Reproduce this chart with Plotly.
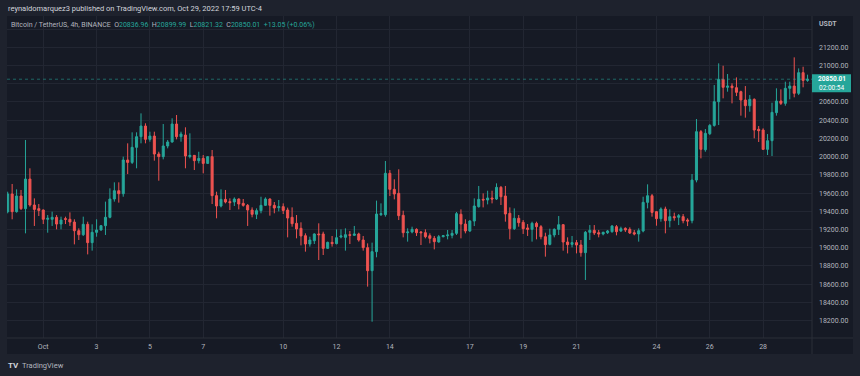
import plotly.graph_objects as go
import pandas as pd

# ---------------- data (BTC/USDT, 4h candles) ----------------
start_time = "2022-09-29 16:00"

opens = [19396, 19590, 19396, 19568, 19429, 19754, 19469, 19429, 19414, 19312,
         19312, 19334, 19260, 19319, 19312, 19282, 19187, 19143, 19257, 19056,
         19169, 19195, 19242, 19334, 19535, 19626, 19593, 19963, 19937, 20102,
         20219, 20336, 20190, 20226, 20029, 20000, 20117, 20161, 20358, 20219,
         20237, 20000, 20014, 19956, 19981, 19926, 20000, 19572, 19458, 19531,
         19506, 19502, 19535, 19487, 19465, 19414, 19367, 19407, 19465, 19535,
         19465, 19440, 19451, 19414, 19334, 19268, 19213, 19132, 19041, 19077,
         19151, 19151, 18993, 19059, 19045, 19118, 19114, 19143, 19136, 19151,
         19085, 19001, 18748, 18957, 19363, 19363, 19817, 19641, 19597, 19356,
         19165, 19173, 19202, 19173, 19165, 19132, 19103, 19063, 19121, 19132,
         19136, 19158, 19367, 19260, 19184, 19293, 19451, 19531, 19524, 19546,
         19535, 19663, 19568, 19378, 19209, 19323, 19279, 19217, 19202, 19268,
         19231, 19121, 19037, 19140, 19202, 19253, 19063, 19037, 19056, 19030,
         18946, 19169, 19191, 19165, 19151, 19165, 19176, 19231, 19184, 19213,
         19202, 19165, 19151, 19184, 19498, 19571, 19396, 19319, 19425, 19297,
         19341, 19334, 19341, 19304, 19297, 19743, 20274, 20076, 20252, 20343,
         20603, 20848, 20761, 20775, 20757, 20713, 20622, 20559, 20629, 20300,
         20292, 20080, 20175, 20483, 20611, 20585, 20750, 20775, 20695, 20922,
         20836.96]

highs = [19615, 19700, 19641, 19634, 20183, 19872, 19542, 19480, 19420, 19359,
         19396, 19359, 19341, 19341, 19388, 19312, 19213, 19341, 19286, 19257,
         19312, 19249, 19506, 19652, 19718, 19718, 20000, 20146, 20267, 20267,
         20475, 20366, 20274, 20274, 20054, 20358, 20183, 20421, 20457, 20274,
         20322, 20256, 20018, 20054, 20018, 20007, 20073, 19615, 19641, 19634,
         19542, 19553, 19542, 19535, 19480, 19443, 19432, 19560, 19553, 19542,
         19502, 19524, 19487, 19440, 19443, 19359, 19279, 19158, 19121, 19158,
         19268, 19176, 19067, 19129, 19202, 19202, 19213, 19184, 19239, 19165,
         19129, 19048, 19056, 19517, 19487, 19952, 19853, 19751, 19861, 19407,
         19213, 19231, 19213, 19184, 19202, 19158, 19129, 19140, 19140, 19195,
         19195, 19392, 19421, 19312, 19304, 19542, 19678, 19597, 19626, 19626,
         19707, 19678, 19678, 19443, 19432, 19359, 19304, 19260, 19286, 19286,
         19249, 19165, 19209, 19213, 19348, 19260, 19114, 19129, 19085, 19085,
         19184, 19249, 19249, 19195, 19176, 19195, 19249, 19249, 19231, 19224,
         19224, 19195, 19213, 19560, 19696, 19590, 19403, 19443, 19451, 19421,
         19385, 19370, 19370, 19323, 19809, 20413, 20292, 20303, 20358, 20786,
         21024, 20998, 20907, 20805, 20870, 20724, 20775, 20676, 20640, 20336,
         20311, 20248, 20592, 20750, 20739, 20823, 20823, 21090, 20969, 20987,
         20899.99]

lows = [19378, 19312, 19385, 19414, 19158, 19451, 19239, 19348, 19260, 19165,
        19239, 19202, 19202, 19260, 19239, 19037, 19085, 19129, 18927, 18968,
        19121, 19187, 19140, 19323, 19506, 19495, 19560, 19809, 19919, 19872,
        20146, 20146, 20164, 19956, 19736, 19970, 20091, 20153, 20190, 20164,
        19872, 19981, 19853, 19926, 19817, 19919, 19480, 19323, 19443, 19487,
        19414, 19458, 19421, 19451, 19239, 19334, 19315, 19378, 19458, 19352,
        19378, 19399, 19370, 19114, 19231, 19103, 19026, 18957, 19012, 19041,
        18865, 18920, 18990, 19012, 19037, 19103, 18968, 19041, 19129, 19067,
        18968, 18573, 18188, 18895, 19348, 19341, 19568, 19531, 19304, 19114,
        19067, 19158, 19129, 19030, 19103, 19048, 18982, 19056, 19114, 19092,
        19103, 19140, 19103, 19158, 19173, 19238, 19440, 19443, 19476, 19487,
        19524, 19469, 19286, 19092, 19195, 19231, 19151, 19129, 19067, 19092,
        19092, 18902, 19026, 19114, 19140, 18968, 18938, 19004, 18938, 18902,
        18646, 19085, 19140, 19114, 19136, 19151, 19165, 19136, 19173, 19173,
        19151, 19136, 19067, 19169, 19432, 19341, 19242, 19286, 19158, 19224,
        19297, 19249, 19268, 19238, 19268, 19718, 19981, 20054, 20237, 20329,
        20347, 20640, 20713, 20585, 20665, 20450, 20428, 20493, 20201, 20161,
        20073, 20018, 20007, 20450, 20567, 20559, 20629, 20651, 20676, 20761,
        20821.32]

closes = [19590, 19396, 19568, 19429, 19754, 19469, 19421, 19410, 19312, 19323,
          19334, 19260, 19304, 19312, 19282, 19187, 19143, 19257, 19056, 19169,
          19195, 19242, 19334, 19535, 19626, 19593, 19963, 19937, 20102, 20219,
          20336, 20190, 20226, 20029, 20000, 20117, 20161, 20358, 20219, 20248,
          20007, 20014, 19956, 19981, 19926, 20000, 19572, 19458, 19531, 19502,
          19495, 19535, 19480, 19465, 19414, 19367, 19407, 19465, 19535, 19465,
          19436, 19451, 19410, 19326, 19264, 19206, 19129, 19041, 19085, 19151,
          19143, 18993, 19059, 19045, 19110, 19129, 19143, 19136, 19151, 19085,
          19001, 18748, 18957, 19370, 19374, 19817, 19641, 19590, 19352, 19165,
          19173, 19202, 19165, 19165, 19121, 19103, 19067, 19121, 19132, 19140,
          19158, 19374, 19260, 19184, 19293, 19458, 19531, 19524, 19546, 19535,
          19663, 19560, 19370, 19209, 19323, 19275, 19209, 19202, 19268, 19231,
          19121, 19034, 19140, 19202, 19253, 19063, 19034, 19056, 19030, 18946,
          19169, 19191, 19162, 19151, 19169, 19184, 19238, 19176, 19209, 19195,
          19162, 19151, 19187, 19498, 19571, 19388, 19319, 19425, 19297, 19341,
          19330, 19352, 19297, 19293, 19743, 20274, 20080, 20256, 20343, 20603,
          20848, 20761, 20775, 20757, 20706, 20622, 20559, 20629, 20292, 20285,
          20080, 20175, 20486, 20611, 20585, 20750, 20775, 20695, 20922, 20836.96,
          20850.01]

times = pd.date_range(start_time, periods=len(opens), freq="4h")

x_tick_dates = ["2022-10-01", "2022-10-03", "2022-10-05", "2022-10-07", "2022-10-10",
                "2022-10-12", "2022-10-14", "2022-10-17", "2022-10-19", "2022-10-21",
                "2022-10-24", "2022-10-26", "2022-10-28"]
x_tick_labels = ["Oct", "3", "5", "7", "10", "12", "14", "17", "19", "21", "24", "26", "28"]

y_tick_values = [18200, 18400, 18600, 18800, 19000, 19200, 19400, 19600, 19800,
                 20000, 20200, 20400, 20600, 20800, 21000, 21200, 21400]
# labels hidden in the reference: 20800 (under the last-price tag) and 21400 (under "USDT")
y_hidden = [20800, 21400]
y_tick_labels = ["" if v in y_hidden else f"{v:.2f}" for v in y_tick_values]

countdown = "02:00:54"

# ---------------- style ----------------
W, H = 860, 376
UP, DOWN = "#26a69a", "#ef5350"
OUTER_BG, PANE_BG = "#1e222d", "#161a25"
GRID, SEP = "#222632", "#2a2e39"
TXT = "#b2b5be"
FONT = "Roboto"

def px_x(p):
    return p / W

def px_y(p):
    return (H - p) / H

pane_l, plot_r, pane_r = 7, 812, 853
pane_t, plot_b, pane_b = 16, 338, 354

fig = go.Figure()
fig.add_trace(go.Candlestick(
    x=times, open=opens, high=highs, low=lows, close=closes,
    increasing=dict(line=dict(color=UP, width=1), fillcolor=UP),
    decreasing=dict(line=dict(color=DOWN, width=1), fillcolor=DOWN),
    whiskerwidth=0, hoverinfo="skip", showlegend=False,
))

last_close = closes[-1]
prev_close = closes[-2]
chg = last_close - prev_close
chg_pct = chg / prev_close * 100

shapes = [
    dict(type="rect", xref="paper", yref="paper", layer="below",
         x0=px_x(pane_l), x1=px_x(pane_r), y0=px_y(pane_b), y1=px_y(pane_t),
         fillcolor=PANE_BG, line=dict(width=0)),
    dict(type="line", xref="paper", yref="paper",
         x0=px_x(plot_r), x1=px_x(plot_r), y0=px_y(pane_b), y1=px_y(pane_t),
         line=dict(color=SEP, width=1)),
    dict(type="line", xref="paper", yref="paper",
         x0=px_x(pane_l), x1=px_x(pane_r), y0=px_y(plot_b), y1=px_y(plot_b),
         line=dict(color=SEP, width=1)),
    dict(type="line", xref="paper", yref="y",
         x0=px_x(pane_l), x1=px_x(plot_r), y0=last_close, y1=last_close,
         line=dict(color="rgba(38,166,154,0.55)", width=1, dash="dot")),
    dict(type="rect", xref="paper", yref="y", ysizemode="pixel", yanchor=last_close,
         x0=px_x(plot_r), x1=px_x(851), y0=-13, y1=5,
         fillcolor=UP, line=dict(width=0)),
]

val = lambda v: f"<span style='color:{UP}'>{v}</span>"
ohlc_text = ("Bitcoin / TetherUS, 4h, BINANCE&nbsp;&nbsp;"
             f"O{val(f'{opens[-1]:.2f}')}&nbsp;&nbsp;H{val(f'{highs[-1]:.2f}')}&nbsp;&nbsp;"
             f"L{val(f'{lows[-1]:.2f}')}&nbsp;&nbsp;C{val(f'{last_close:.2f}')}&nbsp;&nbsp;"
             f"{val(f'{chg:+.2f} ({chg_pct:+.2f}%)')}")

annotations = [
    dict(text="reynaldomarquez3 published on TradingView.com, Oct 29, 2022 17:59 UTC-4",
         xref="paper", yref="paper", x=px_x(6), y=px_y(9), xanchor="left", yanchor="middle",
         showarrow=False, font=dict(family=FONT, size=7.5, color="#d1d4dc")),
    dict(text=ohlc_text, xref="paper", yref="paper", x=px_x(9), y=px_y(25),
         xanchor="left", yanchor="middle", showarrow=False,
         font=dict(family=FONT, size=7, color=TXT)),
    dict(text="<b>USDT</b>", xref="paper", yref="paper", x=px_x(817), y=px_y(24),
         xanchor="left", yanchor="middle", showarrow=False,
         font=dict(family=FONT, size=7, color=TXT)),
    dict(text=f"<b>{last_close:.2f}</b>", xref="paper", yref="y", x=px_x(831.5), y=last_close,
         yshift=0, xanchor="center", yanchor="middle", showarrow=False,
         font=dict(family=FONT, size=6.5, color="white")),
    dict(text=countdown, xref="paper", yref="y", x=px_x(831.5), y=last_close,
         yshift=-8.5, xanchor="center", yanchor="middle", showarrow=False,
         font=dict(family=FONT, size=6.5, color="white")),
    dict(text="<b>TV</b>", xref="paper", yref="paper", x=px_x(6), y=px_y(365),
         xanchor="left", yanchor="middle", showarrow=False,
         font=dict(family=FONT, size=8, color="#d1d4dc")),
    dict(text="TradingView", xref="paper", yref="paper", x=px_x(20), y=px_y(365),
         xanchor="left", yanchor="middle", showarrow=False,
         font=dict(family=FONT, size=7.5, color=TXT)),
]

fig.update_layout(
    width=W, height=H, margin=dict(l=0, r=0, t=0, b=0),
    paper_bgcolor=OUTER_BG, plot_bgcolor=PANE_BG,
    font=dict(family=FONT, size=7, color=TXT),
    shapes=shapes, annotations=annotations, boxgap=0.35,
    xaxis=dict(
        domain=[px_x(pane_l), px_x(plot_r)], type="date",
        range=["2022-09-29 15:22", "2022-10-29 20:00"],
        rangeslider=dict(visible=False),
        tickvals=x_tick_dates, ticktext=x_tick_labels,
        showgrid=True, gridcolor=GRID, gridwidth=1,
        ticks="", ticklabelstandoff=3, zeroline=False, showline=False,
        tickfont=dict(family=FONT, size=7, color=TXT), fixedrange=True,
    ),
    yaxis=dict(
        domain=[px_y(plot_b), px_y(pane_t)], side="right",
        range=[18009, 21544],
        tickvals=y_tick_values, ticktext=y_tick_labels,
        showgrid=True, gridcolor=GRID, gridwidth=1,
        ticks="", ticklabelstandoff=6, zeroline=False, showline=False,
        tickfont=dict(family=FONT, size=7, color=TXT), fixedrange=True,
    ),
    hovermode=False,
)

fig.write_html("out.html", config={"displayModeBar": False},
               post_script="document.body.style.margin='0';document.body.style.padding='0';")
